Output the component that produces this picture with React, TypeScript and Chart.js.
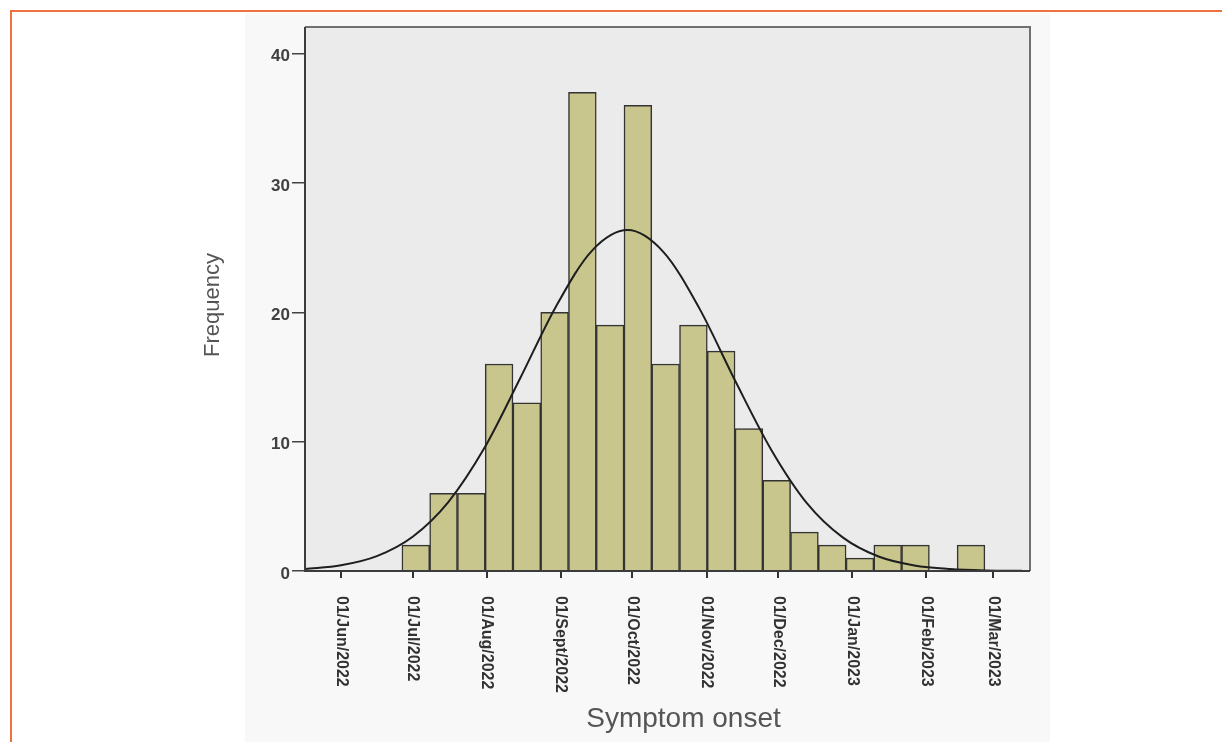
import { useEffect, useRef } from 'react';
import { Chart, registerables } from 'chart.js';

Chart.register(...registerables);

// Histogram bins (days since 01/Jun/2022)
const binCounts = [2, 6, 6, 16, 13, 20, 37, 19, 36, 16, 19, 17, 11, 7, 3, 2, 1, 2, 2, 0, 2];
const binStartDay = 25.5;
const binWidthDays = 11.62;

// Fitted normal curve
const curveDays = [-15, 0, 15, 30, 45, 60, 75, 90, 105, 120, 135, 150, 165, 180, 195, 210, 225, 240, 255, 270, 285];
const curveValues = [0.15, 0.44, 1.15, 2.65, 5.35, 9.5, 14.9, 20.45, 24.75, 26.35, 24.65, 20.3, 14.7, 9.4, 5.25, 2.6, 1.12, 0.43, 0.15, 0.04, 0.01];

// Axis ticks
const monthTickDays = [0, 30, 61, 92, 122, 153, 183, 214, 245, 273];
const monthTickLabels = [
  '01/Jun/2022', '01/Jul/2022', '01/Aug/2022', '01/Sept/2022', '01/Oct/2022',
  '01/Nov/2022', '01/Dec/2022', '01/Jan/2023', '01/Feb/2023', '01/Mar/2023',
];
const yTickValues = [0, 10, 20, 30, 40];
const xMinDay = -15.07;
const xMaxDay = 288.4;
const yMin = 0;
const yMax = 42.05;

const xTitle = 'Symptom onset';
const yTitle = 'Frequency';

const FONT = "'Liberation Sans', Arial, Helvetica, sans-serif";

const decorPlugin = {
  id: 'decor',
  beforeDraw(chart: any) {
    const { ctx, chartArea: a } = chart;
    ctx.save();
    ctx.fillStyle = '#f8f8f8';
    ctx.fillRect(245, 13, 805, 729);
    ctx.fillStyle = '#ebebeb';
    ctx.fillRect(a.left, a.top, a.right - a.left, a.bottom - a.top);
    ctx.restore();
  },
  afterDatasetsDraw(chart: any) {
    const { ctx, chartArea: a } = chart;
    ctx.save();
    ctx.lineWidth = 2;
    ctx.strokeStyle = '#707070';
    ctx.beginPath();
    ctx.moveTo(a.left, a.top);
    ctx.lineTo(a.right, a.top);
    ctx.lineTo(a.right, a.bottom);
    ctx.stroke();
    ctx.strokeStyle = '#3c3c3c';
    ctx.beginPath();
    ctx.moveTo(a.left, a.top);
    ctx.lineTo(a.left, a.bottom);
    ctx.lineTo(a.right, a.bottom);
    ctx.stroke();
    ctx.restore();
  },
  afterDraw(chart: any) {
    const { ctx, chartArea: a } = chart;
    const xs = chart.scales.x;
    ctx.save();
    // rotated month labels (reading top to bottom)
    ctx.fillStyle = '#333333';
    ctx.font = `bold 16px ${FONT}`;
    ctx.textAlign = 'left';
    ctx.textBaseline = 'middle';
    monthTickDays.forEach((d, i) => {
      const px = xs.getPixelForValue(d);
      ctx.save();
      ctx.translate(px, a.bottom + 25);
      ctx.rotate(Math.PI / 2);
      ctx.fillText(monthTickLabels[i], 0, 0);
      ctx.restore();
    });
    // axis titles
    ctx.fillStyle = '#555555';
    ctx.font = `28px ${FONT}`;
    ctx.textAlign = 'center';
    ctx.textBaseline = 'alphabetic';
    ctx.fillText(xTitle, (a.left + a.right) / 2 + 16, a.bottom + 156);
    ctx.font = `22px ${FONT}`;
    ctx.save();
    ctx.translate(a.left - 86, (a.top + a.bottom) / 2 + 6);
    ctx.rotate(-Math.PI / 2);
    ctx.fillText(yTitle, 0, 0);
    ctx.restore();
    ctx.restore();
  },
};

export default function App() {
  const canvasRef = useRef<HTMLCanvasElement | null>(null);

  useEffect(() => {
    const canvas = canvasRef.current;
    if (!canvas) return;
    const barData = binCounts.map((c, i) => ({ x: binStartDay + (i + 0.5) * binWidthDays, y: c }));
    const lineData = curveDays.map((d, i) => ({ x: d, y: curveValues[i] }));

    const chart = new Chart(canvas, {
      type: 'bar',
      data: {
        datasets: [
          {
            type: 'line',
            data: lineData,
            borderColor: '#1e1e1e',
            borderWidth: 2,
            pointRadius: 0,
            fill: false,
            cubicInterpolationMode: 'monotone',
            order: 1,
          } as any,
          {
            type: 'bar',
            data: barData,
            backgroundColor: '#c9c68d',
            borderColor: '#333333',
            borderWidth: 1.5,
            barPercentage: 1,
            categoryPercentage: 1,
            order: 2,
          } as any,
        ],
      },
      options: {
        responsive: false,
        animation: false,
        devicePixelRatio: 1,
        events: [],
        layout: { padding: { left: 245, right: 192, top: 27, bottom: 71 } },
        plugins: { legend: { display: false }, tooltip: { enabled: false }, title: { display: false } },
        scales: {
          x: {
            type: 'linear',
            min: xMinDay,
            max: xMaxDay,
            offset: false,
            afterBuildTicks: (s: any) => {
              s.ticks = monthTickDays.map((v) => ({ value: v }));
            },
            afterFit: (s: any) => {
              s.height = 100;
            },
            ticks: { display: false },
            grid: { display: true, offset: false, drawOnChartArea: false, tickLength: 7, color: '#333333', lineWidth: 2 },
            border: { display: false },
          },
          y: {
            type: 'linear',
            min: yMin,
            max: yMax,
            afterBuildTicks: (s: any) => {
              s.ticks = yTickValues.map((v) => ({ value: v }));
            },
            afterFit: (s: any) => {
              s.width = 60;
            },
            ticks: {
              color: '#404040',
              font: { family: FONT, size: 17, weight: 'bold' },
              padding: 2,
              labelOffset: 3,
            },
            grid: { display: true, drawOnChartArea: false, tickLength: 13, color: '#444444', lineWidth: 1.5 },
            border: { display: false },
          },
        },
      } as any,
      plugins: [decorPlugin],
    });
    return () => chart.destroy();
  }, []);

  return (
    <div style={{ position: 'absolute', left: 0, top: 0, width: 1222, height: 742, background: '#ffffff', overflow: 'hidden' }}>
      <canvas ref={canvasRef} width={1222} height={742} style={{ position: 'absolute', left: 0, top: 0, width: 1222, height: 742 }} />
      <div
        style={{
          position: 'absolute',
          left: 10,
          top: 10,
          right: -10,
          bottom: -10,
          borderTop: '2px solid #f0703f',
          borderLeft: '2px solid #f0703f',
          pointerEvents: 'none',
        }}
      />
    </div>
  );
}
